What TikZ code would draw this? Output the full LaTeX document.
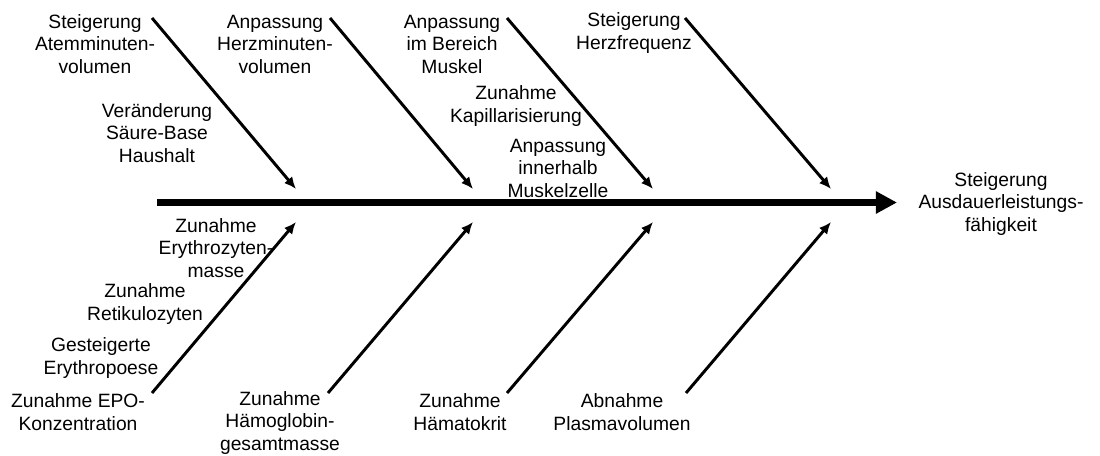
\documentclass[tikz,border=0pt]{standalone}
\usepackage{fontspec}
\setmainfont{Liberation Sans}
\usetikzlibrary{arrows.meta}

\begin{document}
\begin{tikzpicture}[
              x = 0.025cm, y = -0.025cm,
              txt/.style  = {align = center, inner sep = 0pt, font = \fontsize{13.7}{16}\selectfont},
              bone/.style = {-{Latex[length = 8.5pt, width = 7.5pt]}, line width = 2.1pt},
              spine/.style = {-{Triangle[length = 15pt, width = 15pt]}, line width = 4.6pt}
            ]
            \useasboundingbox (0,0) rectangle (1100,455);
            % nodes above the spine
            \node[txt] (atem)     at (95,  44)  {Steigerung\\Atemminuten-\\volumen};
            \node[txt] (herzmin)  at (275, 44)  {Anpassung\\Herzminuten-\\volumen};
            \node[txt] (muskel)   at (452, 44)  {Anpassung\\im Bereich\\Muskel};
            \node[txt] (herzfreq) at (634, 33)  {Steigerung\\Herzfrequenz};
            \node[txt] (saeure)   at (157, 133) {Veränderung\\Säure-Base\\Haushalt};
            \node[txt] (kapill)   at (516, 106) {Zunahme\\Kapillarisierung};
            \node[txt] (zelle)    at (558, 168) {Anpassung\\innerhalb\\Muskelzelle};
            % nodes below the spine
            \node[txt] (erymasse) at (216, 248) {Zunahme\\Erythrozyten-\\masse};
            \node[txt] (retik)    at (145, 304) {Zunahme\\Retikulozyten};
            \node[txt] (erypoese) at (101, 358) {Gesteigerte\\Erythropoese};
            \node[txt] (epo)      at (78,  412) {Zunahme EPO-\\Konzentration};
            \node[txt] (haemo)    at (280, 423) {Zunahme\\Hämoglobin-\\gesamtmasse};
            \node[txt] (haemato)  at (460, 412) {Zunahme\\Hämatokrit};
            \node[txt] (plasma)   at (622, 412) {Abnahme\\Plasmavolumen};
            % the effect
            \node[txt] (ziel)     at (1001, 204) {Steigerung\\Ausdauerleistungs-\\fähigkeit};
            % ends of the bones
            \coordinate (s0) at (157, 202.5);
            \coordinate (t0) at (897, 202.5);
            \coordinate (u1) at (152, 18);  \coordinate (v1) at (296, 189);
            \coordinate (u2) at (330, 18);  \coordinate (v2) at (473, 189);
            \coordinate (u3) at (507, 18);  \coordinate (v3) at (653, 189);
            \coordinate (u4) at (685, 18);  \coordinate (v4) at (831, 189);
            \coordinate (l1) at (152, 393); \coordinate (m1) at (296, 222);
            \coordinate (l2) at (328, 393); \coordinate (m2) at (473, 222);
            \coordinate (l3) at (507, 393); \coordinate (m3) at (653, 222);
            \coordinate (l4) at (686, 393); \coordinate (m4) at (831, 222);
            % the spine
            \draw[spine] (s0) -- (t0);
            % the upper bones
            \draw[bone] (u1) -- (v1);
            \draw[bone] (u2) -- (v2);
            \draw[bone] (u3) -- (v3);
            \draw[bone] (u4) -- (v4);
            % the lower bones
            \draw[bone] (l1) -- (m1);
            \draw[bone] (l2) -- (m2);
            \draw[bone] (l3) -- (m3);
            \draw[bone] (l4) -- (m4);
          \end{tikzpicture}
\end{document}
